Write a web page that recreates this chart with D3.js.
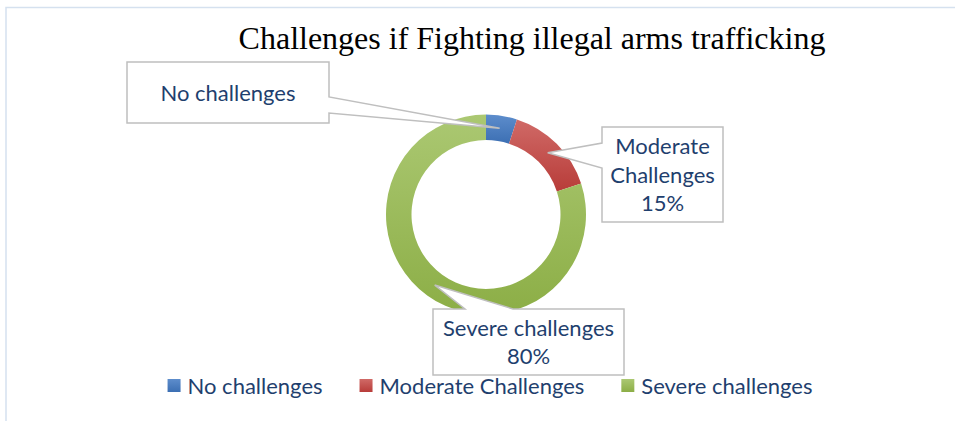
<!DOCTYPE html>
<html>
<head>
<meta charset="utf-8">
<script src="https://cdn.jsdelivr.net/npm/d3@7"></script>
<style>
  body { margin: 0; background: #fff; }
  svg { display: block; }
</style>
</head>
<body>
<div id="chart"></div>
<script>
// data
var categories = ["No challenges", "Moderate Challenges", "Severe challenges"];
var values = [5, 15, 80];
var colors = [
  ["#5D8DCC", "#3C6FB3"],
  ["#D06A67", "#B83C39"],
  ["#ABC872", "#8CAE46"]
];
// callout text lines and boxes (layout only)
var labelLines = [["No challenges"], ["Moderate", "Challenges", "15%"], ["Severe challenges", "80%"]];
var boxes = [
  {x: 127, y: 62, w: 202, h: 61, side: "right", a: 97, b: 113},
  {x: 602, y: 127, w: 121, h: 95, side: "left", a: 143, b: 168},
  {x: 433, y: 309, w: 191, h: 66, side: "top", a: 465, b: 513}
];

var width = 955, height = 421;
var cx = 486, cy = 214.5, rOuter = 100, rInner = 74.5;
var textColor = "#1F3F6E";
var fontFam = "Lato, 'Noto Sans', sans-serif";

var svg = d3.select("#chart")
  .append("svg")
    .attr("width", width)
    .attr("height", height);

// chart frame
svg.append("path")
  .attr("d", "M6,421 L6,7.5 L955,7.5")
  .attr("fill", "none")
  .attr("stroke", "#D5E1EF")
  .attr("stroke-width", 1.5);

// title
svg.append("text")
  .attr("x", 532)
  .attr("y", 49)
  .attr("text-anchor", "middle")
  .style("font-family", "'Liberation Serif', 'Times New Roman', serif")
  .style("font-size", "32px")
  .attr("fill", "#000")
  .text("Challenges if Fighting illegal arms trafficking");

// gradients
var defs = svg.append("defs");
colors.forEach(function(c, i) {
  var g = defs.append("linearGradient")
    .attr("id", "grad" + i)
    .attr("x1", 0).attr("y1", 0).attr("x2", 0).attr("y2", 1);
  g.append("stop").attr("offset", "0%").attr("stop-color", c[0]);
  g.append("stop").attr("offset", "100%").attr("stop-color", c[1]);
});

var pie = d3.pie().sort(null).value(function(d) { return d; });
var arc = d3.arc().innerRadius(rInner).outerRadius(rOuter);
var arcs = pie(values);

var g = svg.append("g")
  .attr("transform", "translate(" + cx + "," + cy + ")");

g.selectAll("path")
  .data(arcs)
  .enter()
  .append("path")
    .attr("d", arc)
    .attr("fill", function(d, i) { return "url(#grad" + i + ")"; });

// callouts
arcs.forEach(function(d, i) {
  var c = arc.centroid(d);
  var tx = cx + c[0], ty = cy + c[1];
  var b = boxes[i];
  var p;
  if (b.side == "right") {
    p = [[b.x, b.y], [b.x + b.w, b.y], [b.x + b.w, b.a], [tx, ty], [b.x + b.w, b.b], [b.x + b.w, b.y + b.h], [b.x, b.y + b.h]];
  } else if (b.side == "left") {
    p = [[b.x, b.y], [b.x + b.w, b.y], [b.x + b.w, b.y + b.h], [b.x, b.y + b.h], [b.x, b.b], [tx, ty], [b.x, b.a]];
  } else {
    p = [[b.x, b.y], [b.a, b.y], [tx, ty], [b.b, b.y], [b.x + b.w, b.y], [b.x + b.w, b.y + b.h], [b.x, b.y + b.h]];
  }
  svg.append("path")
    .attr("d", d3.line()(p) + "Z")
    .attr("fill", "#fff")
    .attr("stroke", "#BFBFBF")
    .attr("stroke-width", 1.5);

  var lines = labelLines[i];
  var lh = 28.5;
  var mid = b.y + b.h / 2;
  var firstBase = mid - (lines.length - 1) * lh / 2 + 8;
  lines.forEach(function(t, k) {
    svg.append("text")
      .attr("x", b.x + b.w / 2)
      .attr("y", firstBase + k * lh)
      .attr("text-anchor", "middle")
      .style("font-family", fontFam)
      .style("font-size", "22px")
      .attr("fill", textColor)
      .text(t);
  });
});

// legend
var legend = svg.append("g");
var lx = 0;
categories.forEach(function(c, i) {
  var item = legend.append("g").attr("transform", "translate(" + lx + ",0)");
  item.append("rect")
    .attr("x", 0).attr("y", 379)
    .attr("width", 13).attr("height", 13)
    .attr("fill", "url(#grad" + i + ")");
  var t = item.append("text")
    .attr("x", 20).attr("y", 394)
    .style("font-family", fontFam)
    .style("font-size", "22px")
    .attr("fill", textColor)
    .text(c);
  lx += 20 + t.node().getComputedTextLength() + 37;
});
var totalW = lx - 37;
legend.attr("transform", "translate(" + (490 - totalW / 2) + ",0)");
</script>
</body>
</html>
